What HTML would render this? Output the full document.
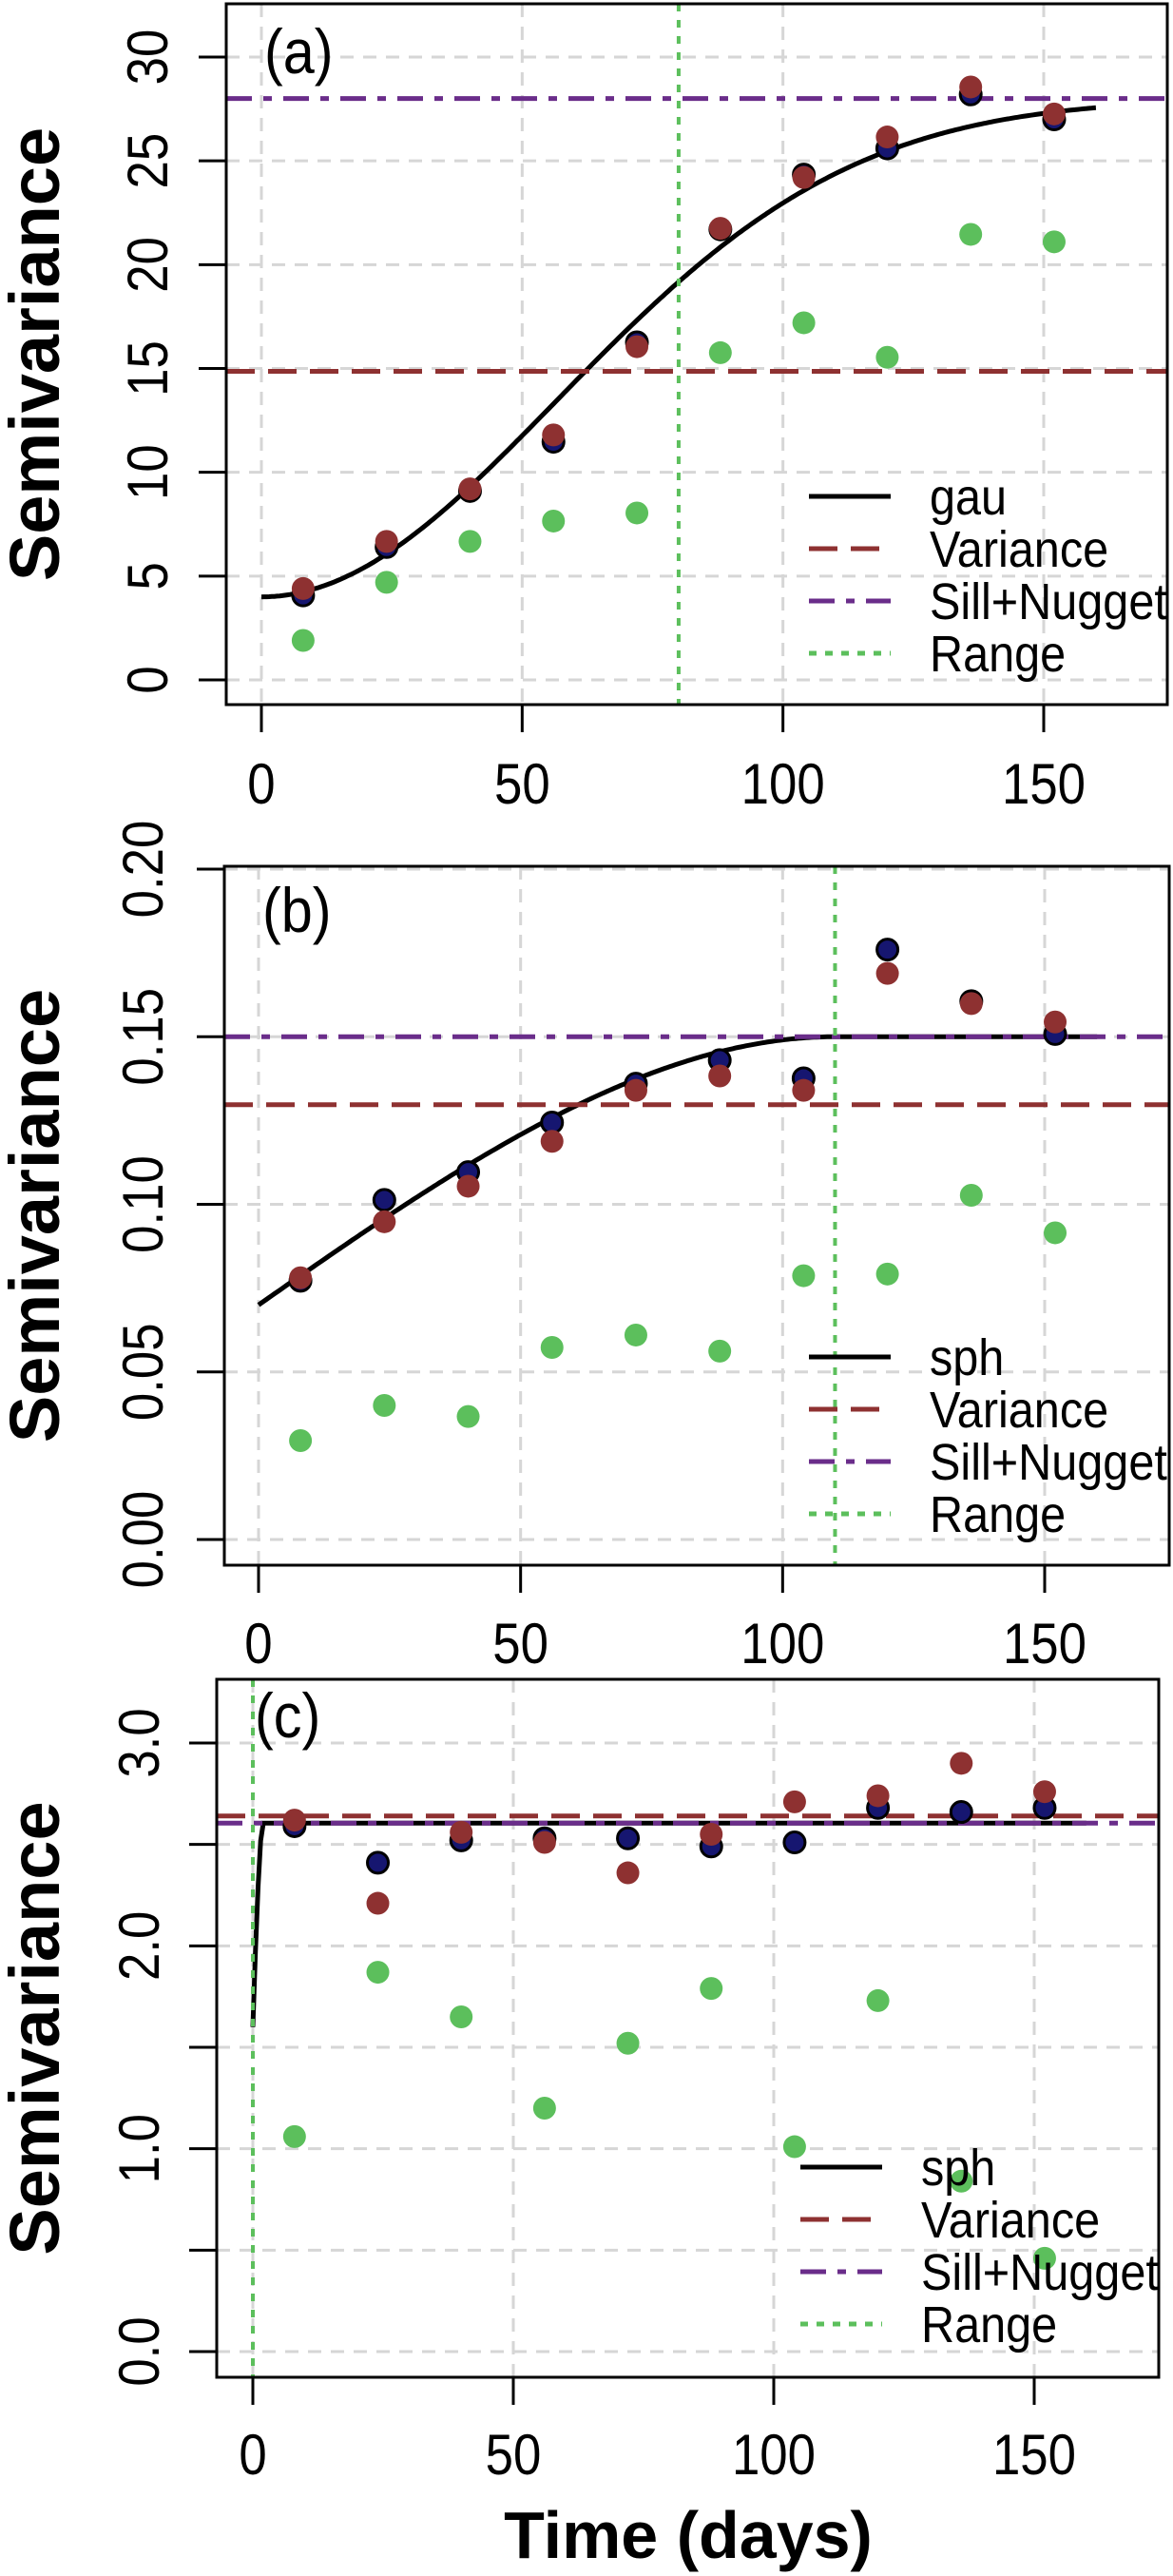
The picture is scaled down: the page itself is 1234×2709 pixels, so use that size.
<!DOCTYPE html>
<html><head><meta charset="utf-8"><style>
html,body{margin:0;padding:0;background:#fff}
svg{display:block;font-family:"Liberation Sans",Arial,sans-serif}
</style></head><body>
<svg id="fig" width="1234" height="2709" viewBox="0 0 1234 2709" xmlns="http://www.w3.org/2000/svg"></svg>
<script>
// ---- shared data ----
const lags = [8,24,40,56,72,88,104,120,136,152];
const xTicks = [0,50,100,150];
// panel a
const aRed = [4.4,6.67,9.2,11.8,16.05,21.75,24.2,26.15,28.56,27.26];
const aBlue = [4.07,6.4,9.1,11.47,16.26,21.7,24.34,25.6,28.2,27.0];
const aGreen = [1.9,4.7,6.67,7.65,8.04,15.76,17.2,15.54,21.46,21.1];
const aTicks = [0,5,10,15,20,25,30];
const aTickLabels = ["0","5","10","15","20","25","30"];
const aModel = [4,28,80]; // nugget, sill+nugget, range
const aVariance = [14.86];
// panel b
const bRed = [0.0781,0.0948,0.1054,0.1188,0.134,0.1383,0.134,0.1689,0.1599,0.1544];
const bBlue = [0.0772,0.1013,0.1096,0.1244,0.136,0.143,0.1376,0.176,0.1606,0.1508];
const bGreen = [0.0295,0.040,0.0367,0.0573,0.061,0.0562,0.0787,0.0792,0.1027,0.0915];
const bTicks = [0,0.05,0.10,0.15,0.20];
const bTickLabels = ["0.00","0.05","0.10","0.15","0.20"];
const bModel = [0.07,0.15,110];
const bVariance = [0.1297];
// panel c
const cRed = [2.62,2.21,2.56,2.51,2.36,2.55,2.71,2.74,2.90,2.76];
const cBlue = [2.59,2.41,2.52,2.53,2.53,2.49,2.51,2.68,2.66,2.68];
const cGreen = [1.06,1.87,1.65,1.20,1.52,1.79,1.01,1.73,0.84,0.46];
const cTicks = [0,0.5,1,1.5,2,2.5,3];
const cTickLabels = ["0.0","","1.0","","2.0","","3.0"];
const cModel = [1.6,2.605,2];
const cVariance = [2.64];

const NS="http://www.w3.org/2000/svg";
const svg=document.getElementById('fig');
function mk(tag,attrs,parent){const e=document.createElementNS(NS,tag);for(const k in attrs)e.setAttribute(k,attrs[k]);(parent||svg).appendChild(e);return e;}

const RED="#8e3131",BLUE="#161670",GREEN="#5cbf5c",PURPLE="#6a2d8a",GRID="#d6d6d6";

function panel(p){
  const g=mk('g',{});
  
  
  const X=v=>p.x0+(v)*(p.x150-p.x0)/150;
  const Y=v=>p.yb+(v-p.vb)*(p.yt-p.yb)/(p.vt-p.vb);
  xTicks.forEach(t=>{const l=mk('line',{x1:X(t),x2:X(t),y1:p.top,y2:p.bottom,stroke:GRID,'stroke-width':3,'stroke-dasharray':'14 10'},g);
    });
  p.ticks.forEach(t=>{const l=mk('line',{x1:p.left,x2:p.right,y1:Y(t),y2:Y(t),stroke:GRID,'stroke-width':3,'stroke-dasharray':'14 10'},g);
    });
  const clip='clip-'+p.id;
  const cp=mk('clipPath',{id:clip},g);mk('rect',{x:p.left,y:p.top,width:p.right-p.left,height:p.bottom-p.top},cp);
  const inner=mk('g',{'clip-path':'url(#'+clip+')'},g);
  // model curve (drawn first, under reference lines)
  const [c0,tot,a]=p.model;const c=tot-c0;let d='';
  for(let i=0;i<=320;i++){const h=i*0.5;let v;
    if(p.type==='gau')v=c0+c*(1-Math.exp(-(h/a)*(h/a)));
    else v=h>=a?tot:c0+c*(1.5*h/a-0.5*Math.pow(h/a,3));
    d+=(i?'L':'M')+X(h).toFixed(1)+' '+Y(v).toFixed(1);}
  const cv=mk('path',{d:d,fill:'none',stroke:'#000','stroke-width':5},inner);
  
  const vl=mk('line',{x1:p.left,x2:p.right,y1:Y(p.variance[0]),y2:Y(p.variance[0]),stroke:RED,'stroke-width':5,'stroke-dasharray':'30 14'},inner);
  
  const sl=mk('line',{x1:p.left,x2:p.right,y1:Y(p.model[1]),y2:Y(p.model[1]),stroke:PURPLE,'stroke-width':5,'stroke-dasharray':'27 12 9 12'},inner);
  
  const rx=X(p.rangeLineAt0?0:p.model[2]);
  const rl=mk('line',{x1:rx,x2:rx,y1:p.top,y2:p.bottom,stroke:GREEN,'stroke-width':4,'stroke-dasharray':'8 9'},inner);
  
  lags.forEach((h,i)=>{
    const b=mk('circle',{cx:X(h),cy:Y(p.blue[i]),r:11,fill:BLUE,stroke:'#000','stroke-width':3},g);
    
    const r=mk('circle',{cx:X(h),cy:Y(p.red[i]),r:12,fill:RED},g);
    
    const gr=mk('circle',{cx:X(h),cy:Y(p.green[i]),r:12,fill:GREEN},g);
    
  });
  const bx=mk('rect',{x:p.left,y:p.top,width:p.right-p.left,height:p.bottom-p.top,fill:'none',stroke:'#000','stroke-width':3},g);
  
  xTicks.forEach(t=>{
    const tl=mk('line',{x1:X(t),x2:X(t),y1:p.bottom,y2:p.bottom+29,stroke:'#000','stroke-width':3},g);
    
    const tx=mk('text',{x:X(t),y:p.xLabelY+21,'text-anchor':'middle','font-size':60,transform:'translate('+X(t)+' 0) scale(0.88 1) translate('+(-X(t))+' 0)'},g);
    tx.textContent=String(t);
  });
  p.ticks.forEach((t,i)=>{
    const tl=mk('line',{x1:p.left-29,x2:p.left,y1:Y(t),y2:Y(t),stroke:'#000','stroke-width':3},g);
    
    if(p.labels[i]){
      const tx=mk('text',{x:0,y:0,'text-anchor':'middle','font-size':60,transform:'translate('+(p.yLabelX+21)+' '+Y(t)+') rotate(-90) scale(0.88 1)'},g);
      tx.textContent=p.labels[i];
    }
  });
  const yt=mk('text',{x:0,y:0,'text-anchor':'middle','font-size':74,'font-weight':'bold',transform:'translate(62 '+((p.top+p.bottom)/2)+') rotate(-90)'},g);
  yt.textContent='Semivariance';
  const pl=mk('text',{x:p.left+40,y:p.tagY+22,'font-size':66,transform:'translate('+(p.left+40)+' 0) scale(0.9 1) translate('+(-(p.left+40))+' 0)'},g);
  pl.textContent='('+p.id+')';
  const leg=mk('g',{},g);
  const names=[p.type,'Variance','Sill+Nugget','Range'];
  const styles=[{s:'#000',d:''},{s:RED,d:'30 14'},{s:PURPLE,d:'27 12 9 12'},{s:GREEN,d:'8 9'}];
  names.forEach((n,i)=>{
    const y=p.legY+i*55;
    const e=mk('g',{},leg);
    const ln=mk('line',{x1:p.legX,x2:p.legX+86,y1:y,y2:y,stroke:styles[i].s,'stroke-width':5},e);
    if(styles[i].d)ln.setAttribute('stroke-dasharray',styles[i].d);
    const tx=mk('text',{x:p.legX+127,y:y+19,'font-size':54,transform:'translate('+(p.legX+127)+' 0) scale(0.9 1) translate('+(-(p.legX+127))+' 0)'},e);
    tx.textContent=n;
  });
}

panel({id:'a',type:'gau',left:238,right:1228,top:4,bottom:741,x0:275,x150:1098,yt:60,yb:715,vt:30,vb:0,
  ticks:aTicks,labels:aTickLabels,red:aRed,blue:aBlue,green:aGreen,model:aModel,variance:aVariance,
  xLabelY:824,yLabelX:155,tagY:55,legX:851,legY:522});
panel({id:'b',type:'sph',left:236,right:1230,top:911,bottom:1646,x0:272,x150:1099,yt:914,yb:1619,vt:0.2,vb:0,
  ticks:bTicks,labels:bTickLabels,red:bRed,blue:bBlue,green:bGreen,model:bModel,variance:bVariance,
  xLabelY:1728,yLabelX:150,tagY:958,legX:851,legY:1427});
panel({id:'c',type:'sph',left:228,right:1219,top:1766,bottom:2500,x0:266,x150:1088,yt:1833,yb:2473,vt:3,vb:0,
  ticks:cTicks,labels:cTickLabels,red:cRed,blue:cBlue,green:cGreen,model:cModel,variance:cVariance,rangeLineAt0:true,
  xLabelY:2581,yLabelX:146,tagY:1805,legX:842,legY:2279});

const xt=mk('text',{x:724,y:2690,'text-anchor':'middle','font-size':70,'font-weight':'bold'});
xt.textContent='Time (days)';


</script>
</body></html>
